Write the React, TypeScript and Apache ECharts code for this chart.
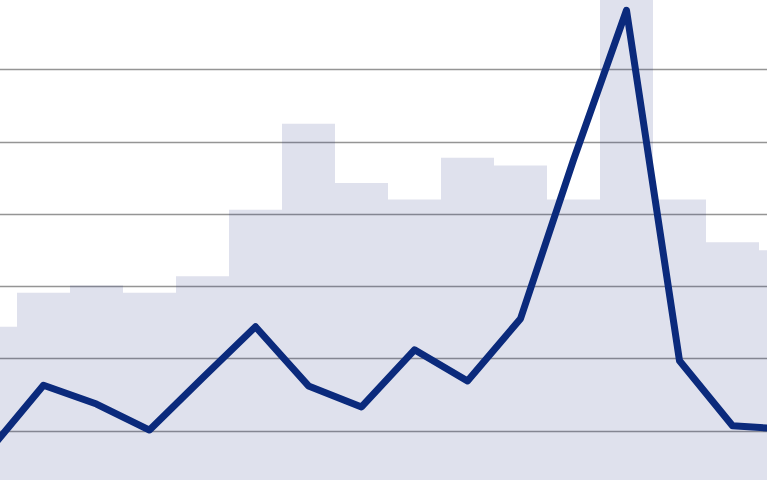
import { useEffect, useRef } from "react";
import * as echarts from "echarts";

// 16 periods, the first and last only partly in view
const periods = ["P1", "P2", "P3", "P4", "P5", "P6", "P7", "P8", "P9", "P10", "P11", "P12", "P13", "P14", "P15", "P16"];
const barValues = [2.44, 2.91, 3.01, 2.91, 3.14, 4.06, 5.25, 4.43, 4.2, 4.78, 4.67, 4.2, 7.6, 4.2, 3.61, 3.5];
const lineValues = [0.75, 1.63, 1.37, 1.01, 1.73, 2.44, 1.62, 1.33, 2.12, 1.69, 2.55, 4.75, 6.82, 1.97, 1.07, 1.02];

export default function App() {
  const nodeRef = useRef<HTMLDivElement | null>(null);

  useEffect(() => {
    if (!nodeRef.current) return;
    const chart = echarts.init(nodeRef.current, undefined, { renderer: "svg" });
    chart.setOption({
      animation: false,
      grid: { left: 0, right: 0, top: 0, bottom: 0, containLabel: false },
      xAxis: {
        type: "category",
        data: periods,
        boundaryGap: true,
        show: false,
      },
      yAxis: {
        type: "value",
        min: 0,
        max: 8,
        interval: 1,
        axisLabel: { show: false },
        axisLine: { show: false },
        axisTick: { show: false },
        splitLine: { lineStyle: { color: "#959595", width: 1.3 } },
      },
      series: [
        {
          type: "bar",
          data: barValues,
          barCategoryGap: "0%",
          itemStyle: { color: "rgba(28, 45, 130, 0.14)" },
          silent: true,
        },
        {
          type: "line",
          data: lineValues,
          showSymbol: false,
          lineStyle: { color: "#0b2a7c", width: 7, join: "round", cap: "round" },
          silent: true,
        },
      ],
    });
    return () => chart.dispose();
  }, []);

  // the plot runs past the frame on every side, so the chart is larger than the window and clipped
  return (
    <div style={{ position: "fixed", left: 0, top: 0, width: 767, height: 480, overflow: "hidden" }}>
      <div ref={nodeRef} style={{ position: "absolute", left: -36.5, top: -74.6, width: 848, height: 577.6 }} />
    </div>
  );
}
